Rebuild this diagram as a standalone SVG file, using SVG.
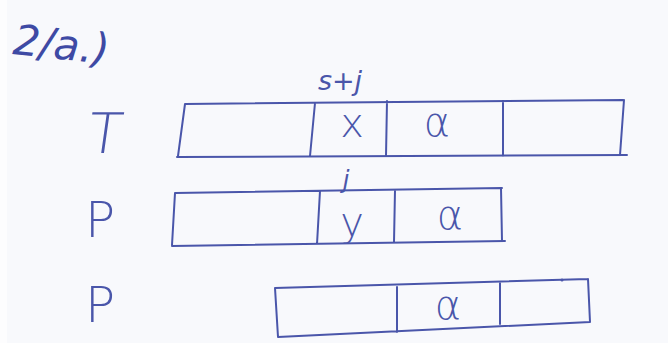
<svg xmlns="http://www.w3.org/2000/svg" width="668" height="343" viewBox="0 0 668 343">
<style>
.ink{fill:none;stroke:#4a56aa;stroke-width:2;stroke-linecap:round;stroke-linejoin:round}
.t{font-family:"DejaVu Sans","Liberation Sans",sans-serif;fill:#4a56aa;font-weight:300}
.m{text-anchor:middle}
</style>
<rect width="668" height="343" fill="#f8f9fc"/>
<rect width="7" height="343" fill="#fdfdfe"/>
<g id="title"><text x="12" y="58" font-size="42" font-style="italic" font-family="DejaVu Sans, sans-serif" fill="#3e4aa4" transform="rotate(6 50 55)">2/a.)</text></g>
<g id="label-T"><text class="t m" x="124" y="153" font-size="56" transform="skewX(-8)">T</text></g>
<g id="label-P1"><text class="t m" x="100" y="237" font-size="50">P</text></g>
<g id="label-P2"><text class="t m" x="100" y="322" font-size="50">P</text></g>
<g id="label-sj"><text class="t m" x="340" y="90" font-size="27" font-style="italic">s+j</text></g>
<g id="label-j"><text class="t m" x="346" y="188" font-size="24" font-style="italic">j</text></g>
<g id="array-T">
<path class="ink" d="M185,104 L623,100 M177,157 L627,155 M185,104 L178,156 M315,103 L310,156 M387,101 L386,156 M503,101 L503,156 M624,100 L620,155"/>
<text class="t m" x="352" y="137" font-size="40">x</text>
<text class="t m" x="437" y="136" font-size="40">α</text>
</g>
<g id="array-P1">
<path class="ink" d="M175,193 L502,188 M172,246 L505,241 M175,193 L172,245 M320,191 L317,244 M395,190 L394,242 M501,188 L502,241"/>
<text class="t m" x="352" y="236" font-size="40">y</text>
<text class="t m" x="450" y="229" font-size="40">α</text>
</g>
<g id="array-P2">
<path class="ink" d="M275,288 L588,279 M278,337 L590,322 M275,288 L278,337 M397,287 L397,332 M500,283 L500,324 M588,279 L590,322"/>
<circle cx="562" cy="280" r="1.5" fill="#4a56aa"/>
<text class="t m" x="448" y="319" font-size="40">α</text>
</g>
</svg>
